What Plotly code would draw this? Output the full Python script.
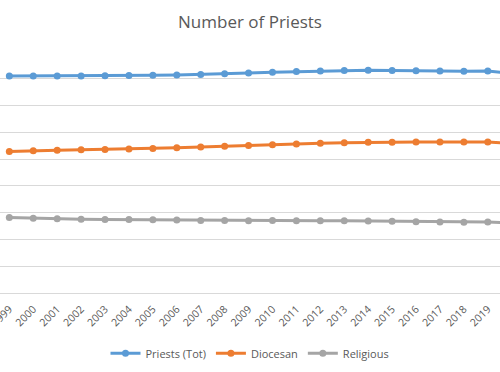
import plotly.graph_objects as go

years = [1999, 2000, 2001, 2002, 2003, 2004, 2005, 2006, 2007, 2008, 2009,
         2010, 2011, 2012, 2013, 2014, 2015, 2016, 2017, 2018, 2019, 2020]
year_labels = [str(y) for y in years]
priests_tot = [405009, 405178, 405067, 405058, 405450, 405891, 406411, 407262, 408024, 409166, 410593,
               412236, 413418, 414313, 415348, 415792, 415656, 414969, 414582, 414065, 414336, 410219]
diocesan = [264202, 265781, 266448, 267334, 268041, 268835, 269762, 271091, 272431, 274007, 275542,
            277009, 278346, 279561, 280532, 281297, 281514, 281831, 281810, 281733, 281810, 279610]
religious = [140807, 139397, 138619, 137724, 137409, 137056, 136649, 136171, 135593, 135159, 135051,
             135227, 135072, 134752, 134816, 134495, 134142, 133138, 132772, 132332, 132526, 130609]

series = [("Priests (Tot)", priests_tot, "#5B9BD5"),
          ("Diocesan", diocesan, "#ED7D31"),
          ("Religious", religious, "#A5A5A5")]

fig = go.Figure()
for name, vals, col in series:
    fig.add_trace(go.Scatter(x=years, y=vals, name=name, mode="lines+markers",
                             line=dict(color=col, width=3),
                             marker=dict(color=col, size=7)))

fig.update_layout(
    width=500, height=372,
    margin=dict(l=0, r=0, t=52, b=79),
    paper_bgcolor="white", plot_bgcolor="white",
    font=dict(family="Open Sans", color="#595959"),
    title=dict(text="Number of Priests", x=0.5, xanchor="center", y=0.94, yanchor="middle",
               font=dict(size=17, color="#595959")),
    showlegend=True,
    legend=dict(orientation="h", x=0.5, xanchor="center", y=-0.25, yanchor="middle",
                font=dict(size=11, color="#595959"), itemwidth=30),
    xaxis=dict(range=[1998.61, 2019.51], tickvals=years, ticktext=year_labels,
               tickangle=-45, tickfont=dict(size=10.5, color="#595959"),
               ticklabeloverflow="allow", automargin=False, ticklabelstandoff=7,
               showgrid=False, zeroline=False, showline=False, ticks=""),
    yaxis=dict(range=[0, 450000], dtick=50000, showticklabels=False, automargin=False,
               showgrid=True, gridcolor="#D9D9D9", gridwidth=1,
               zeroline=True, zerolinecolor="#D9D9D9", zerolinewidth=1),
)

fig.write_html("out.html", config={"displayModeBar": False},
               post_script="document.body.style.margin='0';")
